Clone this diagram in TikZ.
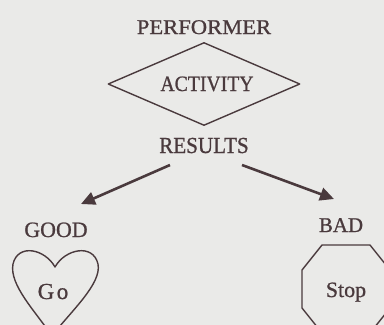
\documentclass[tikz,border=0pt]{standalone}
\usepackage{fontspec}
\setmainfont[FakeBold=0.9]{Liberation Serif}
\usetikzlibrary{arrows.meta,shapes.geometric}
\definecolor{ink}{HTML}{4A3A3D}
\definecolor{paper}{HTML}{EAEAE8}
\begin{document}
\begin{tikzpicture}[x=1bp,y=-1bp,
  lbl/.style={text=ink,inner sep=0pt,anchor=base},
  shapeline/.style={draw=ink,line width=1.4bp,line join=round},
  arr/.style={draw=ink,line width=2.6bp,-{Triangle[length=14bp,width=13bp]}}]
\fill[paper] (0,0) rectangle (384,325);
\useasboundingbox (0,0) rectangle (384,325);
\begin{scope}
\clip (0,0) rectangle (384,325);
% title and activity
\node[lbl] (perf) at (204,34) {\fontsize{21}{24}\selectfont\scalebox{1.08}[1]{PERFORMER}};
\node[shapeline,diamond,aspect=2.3,minimum width=192bp,minimum height=83bp,inner sep=0pt] (dia) at (204,84) {};
\node[lbl] (act) at (207,91) {\fontsize{22}{24}\selectfont\scalebox{0.9}[1]{ACTIVITY}};
\node[lbl] (res) at (204,153) {\fontsize{23}{24}\selectfont\scalebox{0.92}[1]{RESULTS}};
% arrows
\coordinate (l1) at (170,165);
\coordinate (l2) at (81,204);
\coordinate (r1) at (242,165);
\coordinate (r2) at (334,199);
\draw[arr] (l1) -- (l2);
\draw[arr] (r1) -- (r2);
% labels
\node[lbl] (good) at (56,237) {\fontsize{22}{24}\selectfont GOOD};
\node[lbl] (bad) at (341,232) {\fontsize{21}{24}\selectfont BAD};
% heart
\draw[shapeline] (55,267) .. controls (45,249) and (18,243) .. (13,264)
  .. controls (9,285) and (36,312) .. (52,336)
  .. controls (70,312) and (102,284) .. (98,264)
  .. controls (93,243) and (65,249) .. (55,267) -- cycle;
\node[lbl] (go) at (53,299) {\fontsize{23}{24}\selectfont G\kern2.5bp o};
% octagon
\draw[shapeline] (322,245) -- (370,245) -- (390,270) -- (390,308) -- (370,333) -- (322,333) -- (302,308) -- (302,270) -- cycle;
\node[lbl] (stop) at (346,297) {\fontsize{22}{24}\selectfont Stop};
\end{scope}
\end{tikzpicture}
\end{document}
